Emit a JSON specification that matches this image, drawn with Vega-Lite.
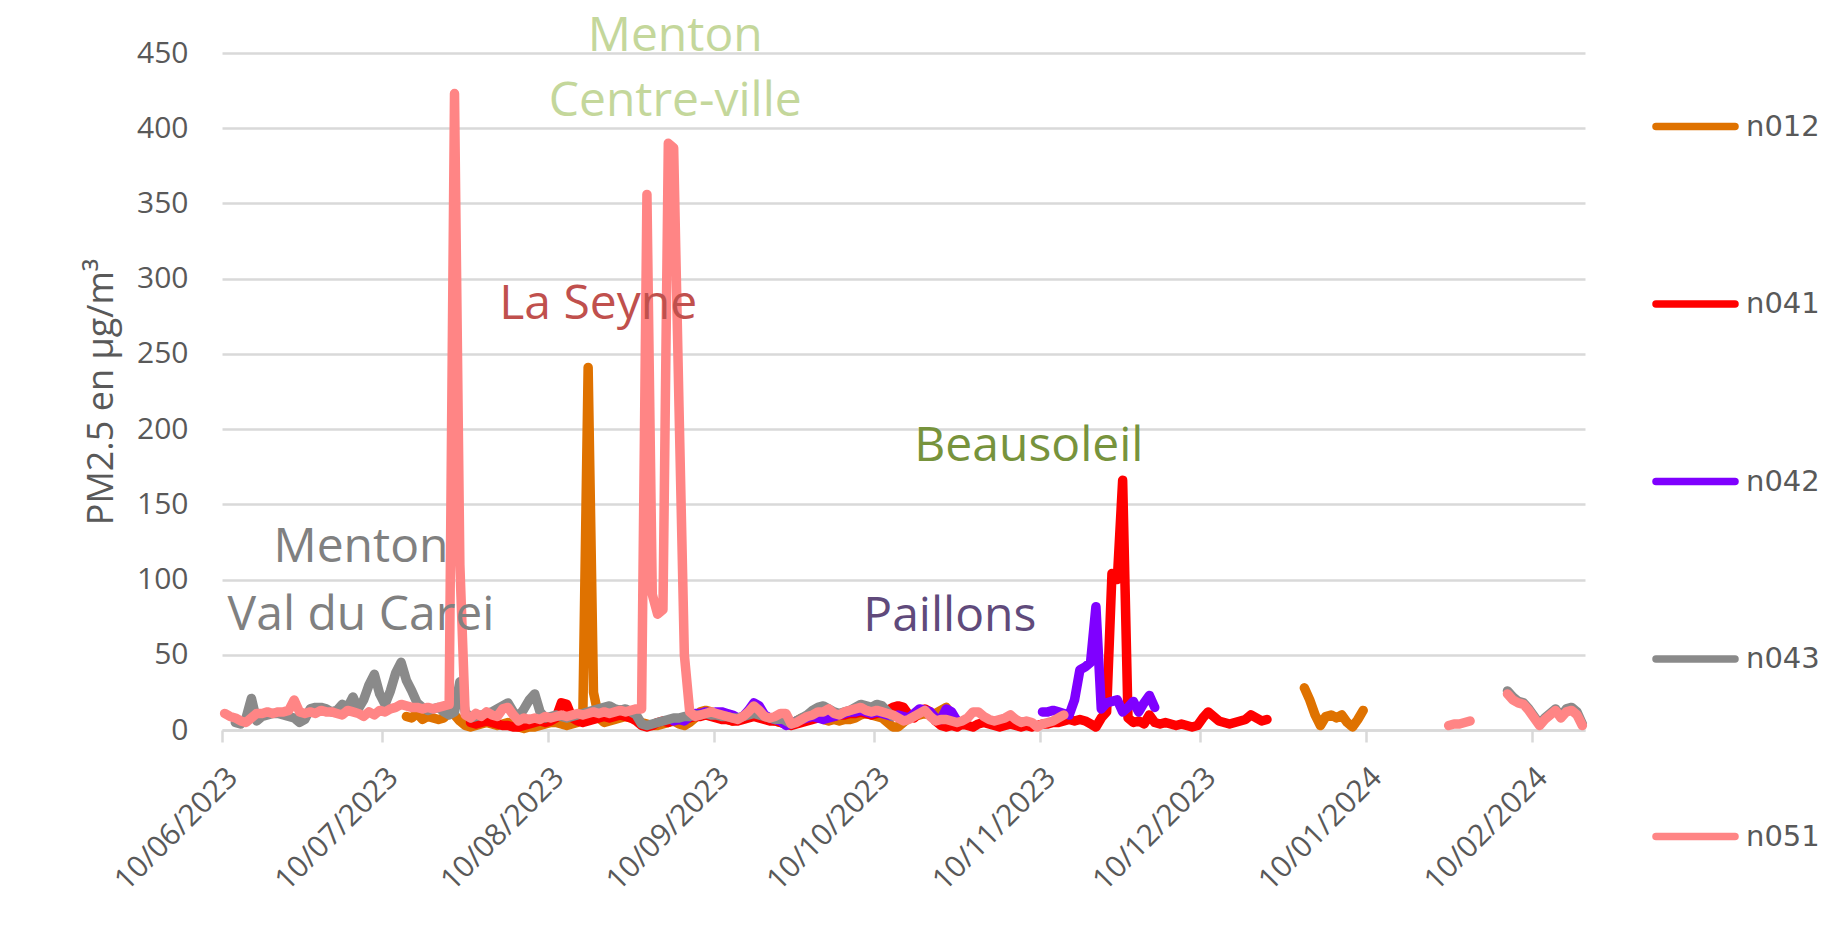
{
"$schema":"https://vega.github.io/schema/vega-lite/v6.json",
"width":1363,"height":677,
"autosize":{"type":"none"},
"padding":{"left":222,"top":53,"right":240,"bottom":203},
"background":"white",
"config":{"view":{"stroke":null},"font":"Open Sans"},
"datasets":{
"pm":[
{"date":"2023-06-10","n051":11},
{"date":"2023-06-11","n051":9},
{"date":"2023-06-12","n043":5,"n051":8},
{"date":"2023-06-13","n043":4,"n051":6},
{"date":"2023-06-14","n043":8,"n051":5},
{"date":"2023-06-15","n043":21,"n051":8},
{"date":"2023-06-16","n043":6,"n051":11},
{"date":"2023-06-17","n043":9,"n051":11},
{"date":"2023-06-18","n043":10,"n051":12},
{"date":"2023-06-19","n043":11,"n051":11},
{"date":"2023-06-20","n043":11,"n051":12},
{"date":"2023-06-21","n043":10,"n051":12},
{"date":"2023-06-22","n043":9,"n051":13},
{"date":"2023-06-23","n043":8,"n051":20},
{"date":"2023-06-24","n043":5,"n051":12},
{"date":"2023-06-25","n043":7,"n051":11},
{"date":"2023-06-26","n043":14,"n051":12},
{"date":"2023-06-27","n043":15,"n051":11},
{"date":"2023-06-28","n043":15,"n051":13},
{"date":"2023-06-29","n043":14,"n051":12},
{"date":"2023-06-30","n043":12,"n051":12},
{"date":"2023-07-01","n043":13,"n051":11},
{"date":"2023-07-02","n043":17,"n051":10},
{"date":"2023-07-03","n043":15,"n051":13},
{"date":"2023-07-04","n043":22,"n051":12},
{"date":"2023-07-05","n043":14,"n051":11},
{"date":"2023-07-06","n043":20,"n051":9},
{"date":"2023-07-07","n043":30,"n051":12},
{"date":"2023-07-08","n043":37,"n051":10},
{"date":"2023-07-09","n043":24,"n051":13},
{"date":"2023-07-10","n043":17,"n051":12},
{"date":"2023-07-11","n043":26,"n051":14},
{"date":"2023-07-12","n043":38,"n051":15},
{"date":"2023-07-13","n043":45,"n051":17},
{"date":"2023-07-14","n012":9,"n043":33,"n051":16},
{"date":"2023-07-15","n012":8,"n043":26,"n051":15},
{"date":"2023-07-16","n012":11,"n043":18,"n051":15},
{"date":"2023-07-17","n012":7,"n043":15,"n051":14},
{"date":"2023-07-18","n012":9,"n043":13,"n051":15},
{"date":"2023-07-19","n012":8,"n043":14,"n051":14},
{"date":"2023-07-20","n012":7,"n043":15,"n051":15},
{"date":"2023-07-21","n012":8,"n043":12,"n051":16},
{"date":"2023-07-22","n012":12,"n043":10,"n051":17},
{"date":"2023-07-23","n012":10,"n043":12,"n051":423},
{"date":"2023-07-24","n012":6,"n043":32,"n051":110},
{"date":"2023-07-25","n012":3,"n043":12,"n051":10},
{"date":"2023-07-26","n012":2,"n041":5,"n043":8,"n051":8},
{"date":"2023-07-27","n012":3,"n041":4,"n043":9,"n051":11},
{"date":"2023-07-28","n012":4,"n041":5,"n043":10,"n051":9},
{"date":"2023-07-29","n012":5,"n041":6,"n043":11,"n051":12},
{"date":"2023-07-30","n012":4,"n041":5,"n043":12,"n051":10},
{"date":"2023-07-31","n012":3,"n041":4,"n043":14,"n051":9},
{"date":"2023-08-01","n012":4,"n041":3,"n043":16,"n051":14},
{"date":"2023-08-02","n012":5,"n041":3,"n043":18,"n051":15},
{"date":"2023-08-03","n012":3,"n041":2,"n043":12,"n051":10},
{"date":"2023-08-04","n012":2,"n041":2,"n043":9,"n051":6},
{"date":"2023-08-05","n012":1,"n041":3,"n043":14,"n051":8},
{"date":"2023-08-06","n012":2,"n041":4,"n043":20,"n051":7},
{"date":"2023-08-07","n012":2,"n041":5,"n043":24,"n051":8},
{"date":"2023-08-08","n012":3,"n041":6,"n043":12,"n051":7},
{"date":"2023-08-09","n012":4,"n041":5,"n043":8,"n051":9},
{"date":"2023-08-10","n012":5,"n041":6,"n043":9,"n051":8},
{"date":"2023-08-11","n012":5,"n041":8,"n043":10,"n051":9},
{"date":"2023-08-12","n012":4,"n041":18,"n043":9,"n051":10},
{"date":"2023-08-13","n012":3,"n041":17,"n043":8,"n051":9},
{"date":"2023-08-14","n012":4,"n041":8,"n043":9,"n051":10},
{"date":"2023-08-15","n012":5,"n041":6,"n043":10,"n051":11},
{"date":"2023-08-16","n012":8,"n041":5,"n043":11,"n051":10},
{"date":"2023-08-17","n012":241,"n041":6,"n043":12,"n051":11},
{"date":"2023-08-18","n012":25,"n041":7,"n043":13,"n051":12},
{"date":"2023-08-19","n012":8,"n041":8,"n043":14,"n051":11},
{"date":"2023-08-20","n012":5,"n041":9,"n043":15,"n051":12},
{"date":"2023-08-21","n012":6,"n041":8,"n043":16,"n051":11},
{"date":"2023-08-22","n012":7,"n041":9,"n043":14,"n051":12},
{"date":"2023-08-23","n012":8,"n041":10,"n043":13,"n051":13},
{"date":"2023-08-24","n012":9,"n041":9,"n043":14,"n051":12},
{"date":"2023-08-25","n012":8,"n041":8,"n043":12,"n051":13},
{"date":"2023-08-26","n012":7,"n041":6,"n043":10,"n051":14},
{"date":"2023-08-27","n012":5,"n041":3,"n043":4,"n051":14},
{"date":"2023-08-28","n012":4,"n041":2,"n043":3,"n051":356},
{"date":"2023-08-29","n012":3,"n041":3,"n043":4,"n051":90},
{"date":"2023-08-30","n012":3,"n041":5,"n043":5,"n051":77},
{"date":"2023-08-31","n012":4,"n041":6,"n043":6,"n051":80},
{"date":"2023-09-01","n012":5,"n041":5,"n043":7,"n051":390},
{"date":"2023-09-02","n012":6,"n041":7,"n042":6,"n043":8,"n051":387},
{"date":"2023-09-03","n012":4,"n041":7,"n042":7,"n043":8,"n051":215},
{"date":"2023-09-04","n012":3,"n041":8,"n042":6,"n043":9,"n051":50},
{"date":"2023-09-05","n012":5,"n041":8,"n042":9,"n043":9,"n051":12},
{"date":"2023-09-06","n012":8,"n041":9,"n042":11,"n043":10,"n051":9},
{"date":"2023-09-07","n012":12,"n041":9,"n042":11,"n043":10,"n051":10},
{"date":"2023-09-08","n012":13,"n041":10,"n042":12,"n043":11,"n051":11},
{"date":"2023-09-09","n012":12,"n041":9,"n042":11,"n043":10,"n051":12},
{"date":"2023-09-10","n012":11,"n041":8,"n042":12,"n043":10,"n051":11},
{"date":"2023-09-11","n012":8,"n041":7,"n042":12,"n043":9,"n051":10},
{"date":"2023-09-12","n012":7,"n041":7,"n042":11,"n043":9,"n051":9},
{"date":"2023-09-13","n012":6,"n041":6,"n042":10,"n043":8,"n051":8},
{"date":"2023-09-14","n012":7,"n041":6,"n042":8,"n043":8,"n051":7},
{"date":"2023-09-15","n012":8,"n041":7,"n042":9,"n043":9,"n051":9},
{"date":"2023-09-16","n012":9,"n041":8,"n042":13,"n043":10,"n051":12},
{"date":"2023-09-17","n012":10,"n041":9,"n042":18,"n043":11,"n051":16},
{"date":"2023-09-18","n012":9,"n041":8,"n042":16,"n043":10,"n051":13},
{"date":"2023-09-19","n012":8,"n041":7,"n042":10,"n043":9,"n051":9},
{"date":"2023-09-20","n012":7,"n041":6,"n042":8,"n043":8,"n051":8},
{"date":"2023-09-21","n012":6,"n041":6,"n042":7,"n043":7,"n051":9},
{"date":"2023-09-22","n012":5,"n041":5,"n042":6,"n043":8,"n051":11},
{"date":"2023-09-23","n012":4,"n041":4,"n042":3,"n043":6,"n051":11},
{"date":"2023-09-24","n012":4,"n041":3,"n042":4,"n043":4,"n051":4},
{"date":"2023-09-25","n012":6,"n041":4,"n042":6,"n043":6,"n051":5},
{"date":"2023-09-26","n012":8,"n041":5,"n042":7,"n043":8,"n051":7},
{"date":"2023-09-27","n012":9,"n041":6,"n042":8,"n043":10,"n051":9},
{"date":"2023-09-28","n012":10,"n041":7,"n042":9,"n043":13,"n051":10},
{"date":"2023-09-29","n012":9,"n041":8,"n042":8,"n043":15,"n051":12},
{"date":"2023-09-30","n012":7,"n041":8,"n042":7,"n043":16,"n051":12},
{"date":"2023-10-01","n012":6,"n041":9,"n042":8,"n043":14,"n051":14},
{"date":"2023-10-02","n012":7,"n041":9,"n042":9,"n043":12,"n051":11},
{"date":"2023-10-03","n012":6,"n041":10,"n042":10,"n043":11,"n051":10},
{"date":"2023-10-04","n012":7,"n041":10,"n042":11,"n043":12,"n051":12},
{"date":"2023-10-05","n012":7,"n041":11,"n042":12,"n043":13,"n051":13},
{"date":"2023-10-06","n012":8,"n041":11,"n042":12,"n043":15,"n051":14},
{"date":"2023-10-07","n012":10,"n041":12,"n042":13,"n043":17,"n051":15},
{"date":"2023-10-08","n012":11,"n041":11,"n042":12,"n043":16,"n051":13},
{"date":"2023-10-09","n012":10,"n041":10,"n042":11,"n043":15,"n051":12},
{"date":"2023-10-10","n012":9,"n041":11,"n042":12,"n043":17,"n051":13},
{"date":"2023-10-11","n012":8,"n041":12,"n042":11,"n043":16,"n051":12},
{"date":"2023-10-12","n012":5,"n041":13,"n042":10,"n043":12,"n051":11},
{"date":"2023-10-13","n012":2,"n041":15,"n042":9,"n043":9,"n051":10},
{"date":"2023-10-14","n012":2,"n041":16,"n042":10,"n051":8},
{"date":"2023-10-15","n012":5,"n041":15,"n042":9,"n051":6},
{"date":"2023-10-16","n012":8,"n041":10,"n042":8,"n051":7},
{"date":"2023-10-17","n012":9,"n041":8,"n042":11,"n051":9},
{"date":"2023-10-18","n012":10,"n041":12,"n042":14,"n051":11},
{"date":"2023-10-19","n012":11,"n041":14,"n042":13,"n051":13},
{"date":"2023-10-20","n012":10,"n041":12,"n042":12,"n051":9},
{"date":"2023-10-21","n012":11,"n041":6,"n042":8,"n051":6},
{"date":"2023-10-22","n012":13,"n041":3,"n042":7,"n051":7},
{"date":"2023-10-23","n012":15,"n041":2,"n042":14,"n051":7},
{"date":"2023-10-24","n012":10,"n041":3,"n042":12,"n051":6},
{"date":"2023-10-25","n041":2,"n042":6,"n051":5},
{"date":"2023-10-26","n041":4,"n051":6},
{"date":"2023-10-27","n041":3,"n051":8},
{"date":"2023-10-28","n041":2,"n051":12},
{"date":"2023-10-29","n041":4,"n051":12},
{"date":"2023-10-30","n041":5,"n051":9},
{"date":"2023-10-31","n041":4,"n051":7},
{"date":"2023-11-01","n041":3,"n051":6},
{"date":"2023-11-02","n041":2,"n051":7},
{"date":"2023-11-03","n041":3,"n051":8},
{"date":"2023-11-04","n041":4,"n051":10},
{"date":"2023-11-05","n041":3,"n051":7},
{"date":"2023-11-06","n041":2,"n051":5},
{"date":"2023-11-07","n041":3,"n051":6},
{"date":"2023-11-08","n041":2,"n051":5},
{"date":"2023-11-09","n041":3,"n051":2},
{"date":"2023-11-10","n041":4,"n042":12,"n051":4},
{"date":"2023-11-11","n041":4,"n042":12,"n051":5},
{"date":"2023-11-12","n041":5,"n042":13,"n051":6},
{"date":"2023-11-13","n041":5,"n042":12,"n051":8},
{"date":"2023-11-14","n041":6,"n042":11,"n051":10},
{"date":"2023-11-15","n041":7,"n042":10},
{"date":"2023-11-16","n041":6,"n042":20},
{"date":"2023-11-17","n041":7,"n042":40},
{"date":"2023-11-18","n041":6,"n042":42},
{"date":"2023-11-19","n041":4,"n042":45},
{"date":"2023-11-20","n041":2,"n042":82},
{"date":"2023-11-21","n041":8,"n042":14},
{"date":"2023-11-22","n041":12,"n042":18},
{"date":"2023-11-23","n041":104,"n042":19},
{"date":"2023-11-24","n041":100,"n042":20},
{"date":"2023-11-25","n041":166,"n042":12},
{"date":"2023-11-26","n041":8,"n042":15},
{"date":"2023-11-27","n041":5,"n042":19},
{"date":"2023-11-28","n041":6,"n042":12},
{"date":"2023-11-29","n041":4,"n042":18},
{"date":"2023-11-30","n041":10,"n042":23},
{"date":"2023-12-01","n041":5,"n042":15},
{"date":"2023-12-02","n041":4},
{"date":"2023-12-03","n041":5},
{"date":"2023-12-04","n041":4},
{"date":"2023-12-05","n041":3},
{"date":"2023-12-06","n041":4},
{"date":"2023-12-07","n041":3},
{"date":"2023-12-08","n041":2},
{"date":"2023-12-09","n041":3},
{"date":"2023-12-10","n041":8},
{"date":"2023-12-11","n041":12},
{"date":"2023-12-12","n041":9},
{"date":"2023-12-13","n041":6},
{"date":"2023-12-14","n041":5},
{"date":"2023-12-15","n041":4},
{"date":"2023-12-16","n041":5},
{"date":"2023-12-17","n041":6},
{"date":"2023-12-18","n041":7},
{"date":"2023-12-19","n041":10},
{"date":"2023-12-20","n041":8},
{"date":"2023-12-21","n041":6},
{"date":"2023-12-22","n041":7},
{"date":"2023-12-25"},
{"date":"2023-12-29","n012":28},
{"date":"2023-12-30","n012":20},
{"date":"2023-12-31","n012":10},
{"date":"2024-01-01","n012":3},
{"date":"2024-01-02","n012":9},
{"date":"2024-01-03","n012":10},
{"date":"2024-01-04","n012":8},
{"date":"2024-01-05","n012":10},
{"date":"2024-01-06","n012":5},
{"date":"2024-01-07","n012":2},
{"date":"2024-01-08","n012":7},
{"date":"2024-01-09","n012":13},
{"date":"2024-01-15"},
{"date":"2024-01-25","n051":3},
{"date":"2024-01-26","n051":4},
{"date":"2024-01-27","n051":4},
{"date":"2024-01-28","n051":5},
{"date":"2024-01-29","n051":6},
{"date":"2024-02-01"},
{"date":"2024-02-05","n043":26,"n051":24},
{"date":"2024-02-06","n043":22,"n051":20},
{"date":"2024-02-07","n043":19,"n051":18},
{"date":"2024-02-08","n043":18,"n051":17},
{"date":"2024-02-09","n043":14,"n051":13},
{"date":"2024-02-10","n043":9,"n051":8},
{"date":"2024-02-11","n043":4,"n051":3},
{"date":"2024-02-12","n043":8,"n051":7},
{"date":"2024-02-13","n043":11,"n051":10},
{"date":"2024-02-14","n043":14,"n051":13},
{"date":"2024-02-15","n043":9,"n051":8},
{"date":"2024-02-16","n043":14,"n051":12},
{"date":"2024-02-17","n043":15,"n051":13},
{"date":"2024-02-18","n043":12,"n051":10},
{"date":"2024-02-19","n043":4,"n051":3}
],
"labels":[
{"group":"Menton Centre-ville","text":"Menton","date":"2023-09-02T07:00:00Z","value":451.5},
{"group":"Menton Centre-ville","text":"Centre-ville","date":"2023-09-02T07:00:00Z","value":408},
{"group":"La Seyne","text":"La Seyne","date":"2023-08-18T21:00:00Z","value":273},
{"group":"Menton Val du Carei","text":"Menton","date":"2023-07-05T12:00:00Z","value":111.5},
{"group":"Menton Val du Carei","text":"Val du Carei","date":"2023-07-05T12:00:00Z","value":66.5},
{"group":"Beausoleil","text":"Beausoleil","date":"2023-11-07T11:00:00Z","value":179},
{"group":"Paillons","text":"Paillons","date":"2023-10-23T16:00:00Z","value":66}
]
},
"encoding":{
"x":{"field":"date","type":"temporal",
"scale":{"type":"utc","nice":false,"domain":[{"year":2023,"month":6,"date":9,"hours":12,"utc":true},{"year":2024,"month":2,"date":19,"hours":12,"utc":true}]},
"axis":{"title":null,"grid":false,
"values":[{"year":2023,"month":6,"date":9,"hours":12,"utc":true},{"year":2023,"month":7,"date":9,"hours":12,"utc":true},{"year":2023,"month":8,"date":9,"hours":12,"utc":true},{"year":2023,"month":9,"date":9,"hours":12,"utc":true},{"year":2023,"month":10,"date":9,"hours":12,"utc":true},{"year":2023,"month":11,"date":9,"hours":12,"utc":true},{"year":2023,"month":12,"date":9,"hours":12,"utc":true},{"year":2024,"month":1,"date":9,"hours":12,"utc":true},{"year":2024,"month":2,"date":9,"hours":12,"utc":true}],
"labelExpr":"utcFormat(datum.value + 43200000, '%d/%m/%Y')",
"labelAngle":-45,"labelAlign":"right","labelBaseline":"top","labelFont":"Open Sans","labelFontSize":30,"labelColor":"#595959","labelPadding":20,"labelOverlap":false,"labelBound":false,"labelFlush":false,
"tickSize":12,"tickColor":"#D9D9D9","tickWidth":2.5,"domainColor":"#D9D9D9","domainWidth":2.5}},
"y":{"field":"value","type":"quantitative",
"scale":{"domain":[0,450],"nice":false},
"axis":{"title":"PM2.5 en µg/m³","titleFont":"Open Sans","titleFontSize":36,"titleFontWeight":"normal","titleColor":"#595959","titleAngle":-90,"titleX":-110,"titleY":338.5,"titleAlign":"center","titleBaseline":"alphabetic",
"values":[0,50,100,150,200,250,300,350,400,450],"labelFont":"Open Sans","labelFontSize":30,"labelColor":"#595959","labelPadding":34,"ticks":false,"domain":false,
"grid":true,"gridColor":"#D9D9D9","gridWidth":2.5}}
},
"layer":[
{"data":{"name":"pm"},
"transform":[{"fold":["n012","n041","n042","n043","n051"],"as":["station","value"]}],
"mark":{"type":"line","strokeWidth":9.5,"strokeCap":"round","strokeJoin":"round"},
"encoding":{
"color":{"field":"station","type":"nominal",
"scale":{"domain":["n012","n041","n042","n043","n051"],"range":["#DF7200","#FF0000","#7F00FF","#8A8A8A","#FF8585"]},
"legend":{"orient":"none","legendX":1430,"legendY":30,"title":null,"padding":0,"symbolType":"stroke","symbolSize":6241,"symbolStrokeWidth":7.5,"labelFont":"DejaVu Sans","labelFontSize":29,"labelColor":"#595959","labelOffset":7,"rowPadding":118.5,
"encode":{"symbols":{"update":{"strokeCap":{"value":"round"}}}}}}
}},
{"data":{"name":"labels"},
"mark":{"type":"text","font":"Open Sans","fontSize":48,"align":"center","baseline":"alphabetic"},
"encoding":{
"text":{"field":"text","type":"nominal"},
"color":{"field":"group","type":"nominal",
"scale":{"domain":["Menton Centre-ville","La Seyne","Menton Val du Carei","Beausoleil","Paillons"],"range":["#C4D79B","#C0504D","#808080","#77933C","#604A7B"]},
"legend":null}
}}
],
"resolve":{"scale":{"color":"independent"}}
}
